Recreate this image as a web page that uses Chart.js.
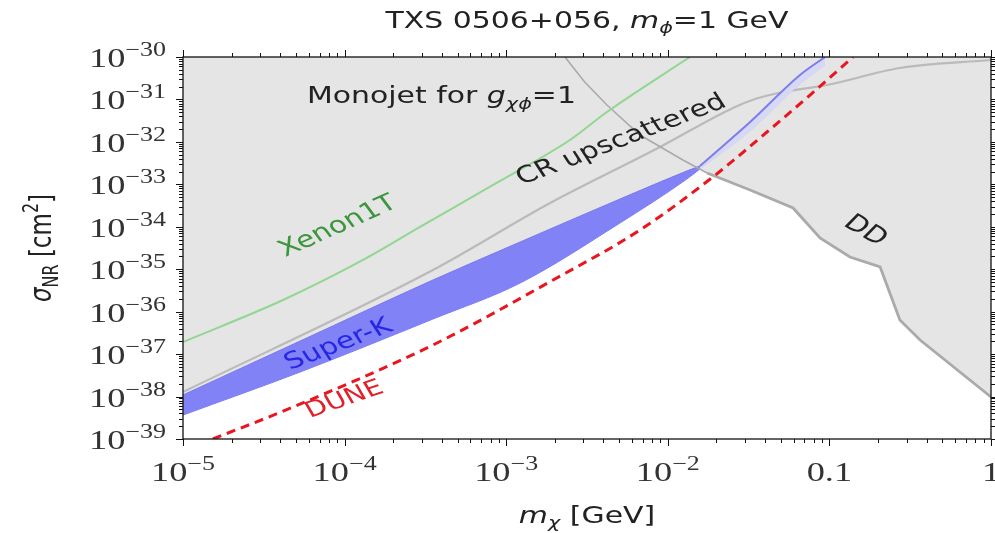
<!DOCTYPE html>
<html>
<head>
<meta charset="utf-8">
<script src="https://cdn.jsdelivr.net/npm/chart.js@4.4.0/dist/chart.umd.min.js"></script>
<style>
  html, body { margin: 0; padding: 0; background: #fff; }
  #wrap { width: 995px; height: 533px; }
</style>
</head>
<body>
<div id="wrap"><canvas id="chart"></canvas></div>
<script>
// values: x = m_chi [GeV], y = sigma_NR [cm^2]
const xenonMass  = [1e-5, 4.16e-5, 1.3e-4, 2.93e-4, 9.16e-4, 2.48e-3, 4.2e-3, 1.37e-2];
const xenonSigma = [1.93e-37, 1.88e-36, 1.65e-35, 9.9e-35, 1.2e-33, 1.11e-32, 5.06e-32, 1e-30];

const crMass  = [1e-5, 3.52e-4, 1.87e-3, 8.95e-3, 2.53e-2, 3.47e-2, 5.16e-2, 9.66e-2, 0.273, 1];
const crSigma = [1.28e-38, 9.57e-36, 3.63e-34, 7.57e-33, 6.3e-32, 1.02e-31, 1.5e-31, 2.19e-31, 5.5e-31, 8.5e-31];

const superKMass  = [1e-5, 5.3e-5, 3.52e-4, 1.22e-3, 5.06e-3, 1.31e-2, 1.58e-2];
const superKUpper = [1.09e-38, 2.03e-37, 5.57e-36, 4.38e-35, 4.51e-34, 2.06e-33, 2.7e-33];
const superKLower = [3.67e-39, 3.78e-38, 6.71e-37, 4.73e-36, 1.23e-34, 1.33e-33, 2.3e-33];

const superKTailMass  = [1.58e-2, 3.23e-2, 6.58e-2, 9.4e-2];
const superKTailUpper = [2.7e-33, 2.94e-32, 3.77e-31, 1e-30];
const superKTailLower = [2.3e-33, 1.8e-32, 2.31e-31, 6.5e-31];

const duneMass  = [1.53e-5, 4.8e-5, 3.52e-4, 1.95e-3, 6.73e-3, 1.9e-2, 4.11e-2, 7.59e-2, 0.14];
const duneSigma = [1e-39, 5.66e-39, 1.64e-37, 5.57e-36, 8.4e-35, 1.49e-33, 1.71e-32, 1.27e-31, 1e-30];

const ddMass  = [2.31e-3, 3.05e-3, 4.2e-3, 6.73e-3, 1.24e-2, 1.75e-2, 3.23e-2, 5.96e-2, 8.75e-2, 0.134, 0.206, 0.273, 0.364, 1];
const ddSigma = [1e-30, 2.6e-31, 7.4e-32, 1.45e-32, 3.74e-33, 1.85e-33, 7.35e-34, 2.77e-34, 5.43e-35, 1.94e-35, 1.13e-35, 6.35e-37, 2.15e-37, 9.75e-39];

const xTickValues = [1e-5, 1e-4, 1e-3, 1e-2, 0.1, 1];
const xTickLabels = [['10', '−5'], ['10', '−4'], ['10', '−3'], ['10', '−2'], ['0.1'], ['1']];
const yTickExps = [-30, -31, -32, -33, -34, -35, -36, -37, -38, -39];

const SANS = '"DejaVu Sans"';
const SERIF = '"Liberation Serif"';
const STRETCH = 1.3; // the figure is stretched sideways

const pts = (xs, ys) => xs.map((x, i) => ({ x: x, y: ys[i] }));

// region left uncovered by the gray exclusions: below Super-K, left of DD
const openMass = superKMass.concat(ddMass.filter(m => m > 1.6e-2));
const openSigma = superKLower.concat(ddSigma.filter((s, i) => ddMass[i] > 1.6e-2));

function drawRuns(ctx, runs, x, y, opt) {
  const sx = opt.sx || STRETCH;
  ctx.save();
  ctx.translate(x, y);
  ctx.scale(sx, 1);
  if (opt.deg) {
    const a = Math.abs(opt.deg) === 90 ? Math.sign(opt.deg) * Math.PI / 2
      : Math.atan(Math.tan(opt.deg * Math.PI / 180) * sx);
    ctx.rotate(a);
  }
  ctx.fillStyle = opt.color || '#222';
  ctx.textAlign = 'left';
  ctx.textBaseline = 'alphabetic';
  let w = 0;
  runs.forEach(r => { ctx.font = r.f; w += ctx.measureText(r.t).width; });
  let cx = opt.align === 'center' ? -w / 2 : opt.align === 'right' ? -w : 0;
  runs.forEach(r => {
    ctx.font = r.f;
    ctx.fillText(r.t, cx, r.dy || 0);
    cx += ctx.measureText(r.t).width;
  });
  ctx.restore();
}

const notes = [
  { x: 5.85e-5, y: 8.2e-32, deg: 0, color: '#222', runs: [
    { t: 'Monojet for ', f: `23px ${SANS}` },
    { t: 'g', f: `italic 23px ${SANS}` },
    { t: 'χϕ', f: `italic 16px ${SANS}`, dy: 6 },
    { t: '=1', f: `23px ${SANS}` }] },
  { x: 1.25e-3, y: 9.6e-34, deg: -21, color: '#222', runs: [{ t: 'CR upscattered', f: `23px ${SANS}` }] },
  { x: 4.3e-5, y: 1.94e-35, deg: -24, color: '#3c963c', runs: [{ t: 'Xenon1T', f: `23px ${SANS}` }] },
  { x: 4.6e-5, y: 4.2e-38, deg: -21, color: '#2626e6', runs: [{ t: 'Super-K', f: `23px ${SANS}` }] },
  { x: 6.1e-5, y: 3.12e-39, deg: -19, color: '#e0202a', runs: [{ t: 'DUNE', f: `22px ${SANS}` }] },
  { x: 0.12, y: 1.1e-34, deg: 30, color: '#222', runs: [{ t: 'DD', f: `23px ${SANS}` }] }
];

const axesPlugin = {
  id: 'axesPlugin',
  beforeDatasetsDraw(chart) {
    const { ctx, chartArea: a } = chart;
    ctx.save();
    ctx.fillStyle = '#e5e5e5';
    ctx.fillRect(a.left, a.top, a.right - a.left, a.bottom - a.top);
    ctx.restore();
  },
  afterDatasetsDraw(chart) {
    const { ctx, chartArea: a, scales } = chart;
    const xs = scales.x, ys = scales.y;
    ctx.save();
    ctx.strokeStyle = '#111';
    ctx.lineWidth = 1;
    ctx.beginPath();
    // x ticks (bottom and top, outward)
    for (let d = -5; d <= 0; d++) {
      for (let k = 1; k <= 9; k++) {
        const v = k * Math.pow(10, d);
        if (v > 1.0001) break;
        const px = Math.round(xs.getPixelForValue(v)) + 0.5;
        const len = k === 1 ? 7 : 4;
        ctx.moveTo(px, a.bottom); ctx.lineTo(px, a.bottom + len);
        ctx.moveTo(px, a.top); ctx.lineTo(px, a.top - len);
      }
    }
    // y ticks (left and right, outward)
    for (let d = -39; d <= -30; d++) {
      for (let k = 1; k <= 9; k++) {
        if (d === -30 && k > 1) break;
        const v = k * Math.pow(10, d);
        const py = Math.round(ys.getPixelForValue(v)) + 0.5;
        const len = k === 1 ? 7 : 4;
        ctx.moveTo(a.left, py); ctx.lineTo(a.left - len, py);
        ctx.moveTo(a.right, py); ctx.lineTo(a.right + len, py);
      }
    }
    ctx.stroke();
    ctx.lineWidth = 1.3;
    ctx.strokeRect(a.left, a.top, a.right - a.left, a.bottom - a.top);
    ctx.restore();

    // tick labels
    yTickExps.forEach(e => {
      const py = ys.getPixelForValue(Math.pow(10, e));
      drawRuns(ctx, [
        { t: '10', f: `28px ${SERIF}` },
        { t: '−' + Math.abs(e), f: `20px ${SERIF}`, dy: -11 }
      ], a.left - 17, py + 10, { align: 'right', color: '#333' });
    });
    xTickValues.forEach((v, i) => {
      const px = xs.getPixelForValue(v);
      const lab = xTickLabels[i];
      const runs = [{ t: lab[0], f: `28px ${SERIF}` }];
      if (lab[1]) runs.push({ t: lab[1], f: `20px ${SERIF}`, dy: -11 });
      drawRuns(ctx, runs, px, a.bottom + 42, { align: 'center', color: '#333' });
    });

    // axis titles and title
    drawRuns(ctx, [
      { t: 'm', f: `italic 23px ${SANS}` },
      { t: 'χ', f: `italic 16px ${SANS}`, dy: 5 },
      { t: ' [GeV]', f: `23px ${SANS}` }
    ], (a.left + a.right) / 2, a.bottom + 84, { align: 'center' });
    drawRuns(ctx, [
      { t: 'σ', f: `italic 23px ${SANS}` },
      { t: 'NR', f: `16px ${SANS}`, dy: 5 },
      { t: ' [cm', f: `23px ${SANS}` },
      { t: '2', f: `16px ${SANS}`, dy: -10 },
      { t: ']', f: `23px ${SANS}` }
    ], 51, (a.top + a.bottom) / 2, { align: 'center', deg: -90 });
    drawRuns(ctx, [
      { t: 'TXS 0506+056, ', f: `23px ${SANS}` },
      { t: 'm', f: `italic 23px ${SANS}` },
      { t: 'ϕ', f: `italic 16px ${SANS}`, dy: 5 },
      { t: '=1 GeV', f: `23px ${SANS}` }
    ], (a.left + a.right) / 2, 28, { align: 'center' });

    // in-plot labels
    notes.forEach(n => {
      drawRuns(ctx, n.runs, xs.getPixelForValue(n.x), ys.getPixelForValue(n.y),
        { deg: n.deg, color: n.color });
    });
  }
};

const line = (label, data, extra) => Object.assign({
  label: label, data: data, pointRadius: 0, tension: 0, fill: false,
  cubicInterpolationMode: 'monotone'
}, extra);

new Chart(document.getElementById('chart'), {
  type: 'line',
  data: {
    datasets: [
      line('open', pts(openMass, openSigma), {
        borderWidth: 0, borderColor: 'rgba(0,0,0,0)', backgroundColor: '#ffffff',
        cubicInterpolationMode: 'default', fill: { value: 1e-39 }, order: 20 }),
      line('CR upscattered', pts(crMass, crSigma), {
        borderColor: '#bababa', borderWidth: 2.2, order: 15 }),
      line('Super-K lower', pts(superKMass, superKLower), {
        borderColor: 'rgb(115,115,240)', borderWidth: 1, order: 12 }),
      line('Super-K', pts(superKMass, superKUpper), {
        borderColor: 'rgb(120,120,240)', borderWidth: 1, backgroundColor: 'rgb(130,130,247)',
        fill: '-1', order: 11 }),
      line('Super-K tail lower', pts(superKTailMass, superKTailLower), {
        borderColor: 'rgba(200,205,245,0.8)', borderWidth: 1, order: 10 }),
      line('Super-K tail', pts(superKTailMass, superKTailUpper), {
        borderColor: 'rgb(125,125,235)', borderWidth: 2, backgroundColor: 'rgb(214,216,246)',
        fill: '-1', order: 9 }),
      line('DD', pts(ddMass, ddSigma), {
        borderColor: '#aaaaaa', borderWidth: 2.8, cubicInterpolationMode: 'default',
        segment: { borderWidth: c => c.p1.parsed.x <= 1.76e-2 ? 1.6 : 2.8 }, order: 8 }),
      line('Xenon1T', pts(xenonMass, xenonSigma), {
        borderColor: '#92d692', borderWidth: 2, order: 6 }),
      line('DUNE', pts(duneMass, duneSigma), {
        borderColor: '#e8161e', borderWidth: 3, borderDash: [9, 6], order: 4 })
    ]
  },
  options: {
    responsive: true,
    maintainAspectRatio: false,
    animation: false,
    devicePixelRatio: 1,
    layout: { padding: { left: 183, right: 4, top: 57, bottom: 94 } },
    scales: {
      x: { type: 'logarithmic', min: 1e-5, max: 1, display: false },
      y: { type: 'logarithmic', min: 1e-39, max: 1e-30, display: false }
    },
    plugins: { legend: { display: false }, tooltip: { enabled: false } }
  },
  plugins: [axesPlugin]
});
</script>
</body>
</html>
